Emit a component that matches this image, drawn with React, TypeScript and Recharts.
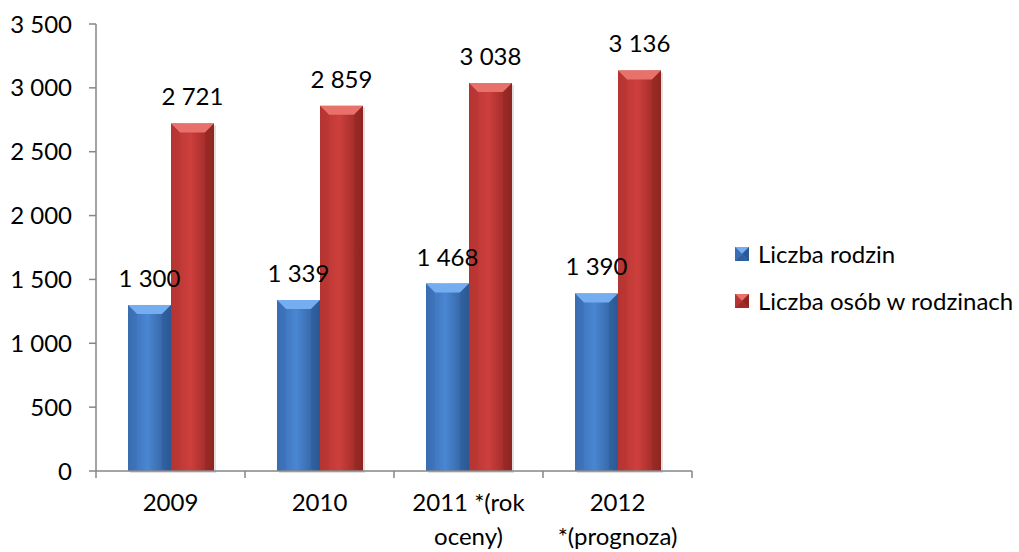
import React from 'react';
import { BarChart, Bar, XAxis, YAxis, Legend, LabelList } from 'recharts';

const categories = ['2009', '2010', '2011 *(rok\noceny)', '2012\n*(prognoza)'];
const familiesValues = [1300, 1339, 1468, 1390];
const personsValues = [2721, 2859, 3038, 3136];
const yTicks = [0, 500, 1000, 1500, 2000, 2500, 3000, 3500];
const seriesNames = ['Liczba rodzin', 'Liczba osób w rodzinach'];

const data = categories.map((c, i) => ({
  name: c,
  rodziny: familiesValues[i],
  osoby: personsValues[i],
}));

const FONT = 'Lato, "Open Sans", sans-serif';
const FS = 24;
const AXIS = '#868686';

const fmt = (v: number) => String(v).replace(/\B(?=(\d{3})+(?!\d))/g, ' ');

const palettes: Record<string, { left: string; mid: string; right: string; top: string; bottom: string }> = {
  blue: { left: '#3a6db3', mid: '#4a86d2', right: '#2c5994', top: '#74aef0', bottom: '#2f5f9e' },
  red: { left: '#b53532', mid: '#cd3f3c', right: '#8e2522', top: '#e8716c', bottom: '#9e2b28' },
};

const makeShape = (key: string) => (props: any) => {
  const { x, y, width, height } = props;
  if (!height || height <= 0) return null;
  const p = palettes[key];
  const b = Math.min(9, width / 4, height / 2);
  return (
    <g>
      <rect x={x + 2} y={y + 2} width={width} height={height} fill="rgba(0,0,0,0.12)" />
      <rect x={x} y={y} width={width} height={height} fill={`url(#grad-${key})`} />
      <polygon
        points={`${x},${y} ${x + width},${y} ${x + width - b},${y + b} ${x + b},${y + b}`}
        fill={p.top}
      />
      <polygon
        points={`${x},${y} ${x + b},${y + b} ${x + b},${y + height - 2} ${x},${y + height}`}
        fill={p.left}
        opacity={0.35}
      />
      <polygon
        points={`${x + width},${y} ${x + width - b},${y + b} ${x + width - b},${y + height - 2} ${x + width},${y + height}`}
        fill={p.right}
        opacity={0.45}
      />
    </g>
  );
};

const XTick = (props: any) => {
  const { x, y, payload, index } = props;
  const half = payload && payload.offset ? payload.offset : 74.5;
  const lines = String(payload.value).split('\n');
  return (
    <g>
      <line x1={x - half} y1={y - 8} x2={x - half} y2={y - 1} stroke={AXIS} strokeWidth={1.5} />
      {index === categories.length - 1 && (
        <line x1={x + half} y1={y - 8} x2={x + half} y2={y - 1} stroke={AXIS} strokeWidth={1.5} />
      )}
      <text x={x} y={y} textAnchor="middle" fontFamily={FONT} fontSize={FS} fill="#000">
        {lines.map((l, i) => (
          <tspan key={i} x={x} dy={i === 0 ? 32 : 34}>
            {l}
          </tspan>
        ))}
      </text>
    </g>
  );
};

const LegendContent = () => (
  <div style={{ fontFamily: FONT, fontSize: FS, color: '#000', whiteSpace: 'nowrap' }}>
    {seriesNames.map((n, i) => {
      const key = i === 0 ? 'blue' : 'red';
      const p = palettes[key];
      return (
        <div key={n} style={{ display: 'flex', alignItems: 'center', height: 47 }}>
          <svg width={14} height={14} style={{ marginRight: 9, flex: 'none' }}>
            <rect x={0} y={0} width={14} height={14} fill={p.mid} />
            <polygon points="0,0 14,0 7,7" fill={p.top} />
            <polygon points="0,14 14,14 7,7" fill={p.bottom} />
            <polygon points="14,0 14,14 7,7" fill={p.right} />
            <polygon points="0,0 0,14 7,7" fill={p.left} />
          </svg>
          <span>{n}</span>
        </div>
      );
    })}
  </div>
);

export default function App() {
  return (
    <div style={{ position: 'absolute', left: 0, top: 0, width: 1019, height: 552, background: '#fff' }}>
      <BarChart
        width={1019}
        height={552}
        data={data}
        margin={{ top: 24, right: 327, left: 0, bottom: 21 }}
        barGap={0}
        barSize={43}
      >
        <defs>
          {Object.keys(palettes).map((k) => (
            <linearGradient key={k} id={`grad-${k}`} x1="0" y1="0" x2="1" y2="0">
              <stop offset="0%" stopColor={palettes[k].left} />
              <stop offset="45%" stopColor={palettes[k].mid} />
              <stop offset="100%" stopColor={palettes[k].right} />
            </linearGradient>
          ))}
        </defs>
        <XAxis
          dataKey="name"
          height={60}
          interval={0}
          axisLine={{ stroke: AXIS, strokeWidth: 1.5 }}
          tickLine={false}
          tick={<XTick />}
        />
        <YAxis
          width={96}
          domain={[0, 3500]}
          ticks={yTicks}
          interval={0}
          tickFormatter={fmt}
          axisLine={{ stroke: AXIS, strokeWidth: 1.5 }}
          tickLine={{ stroke: AXIS, strokeWidth: 1.5 }}
          tickSize={7}
          tickMargin={17}
          tick={{ fontFamily: FONT, fontSize: FS, fill: '#000' }}
        />
        <Legend
          layout="vertical"
          align="center"
          verticalAlign="middle"
          wrapperStyle={{ left: 735, top: 230, width: 284 }}
          content={<LegendContent />}
        />
        <Bar dataKey="rodziny" name={seriesNames[0]} fill="#4a86d2" isAnimationActive={false} shape={makeShape('blue')}>
          <LabelList dataKey="rodziny" position="top" offset={18} formatter={fmt} style={{ fontFamily: FONT, fontSize: FS, fill: '#000' }} />
        </Bar>
        <Bar dataKey="osoby" name={seriesNames[1]} fill="#cd3f3c" isAnimationActive={false} shape={makeShape('red')}>
          <LabelList dataKey="osoby" position="top" offset={18} formatter={fmt} style={{ fontFamily: FONT, fontSize: FS, fill: '#000' }} />
        </Bar>
      </BarChart>
    </div>
  );
}
